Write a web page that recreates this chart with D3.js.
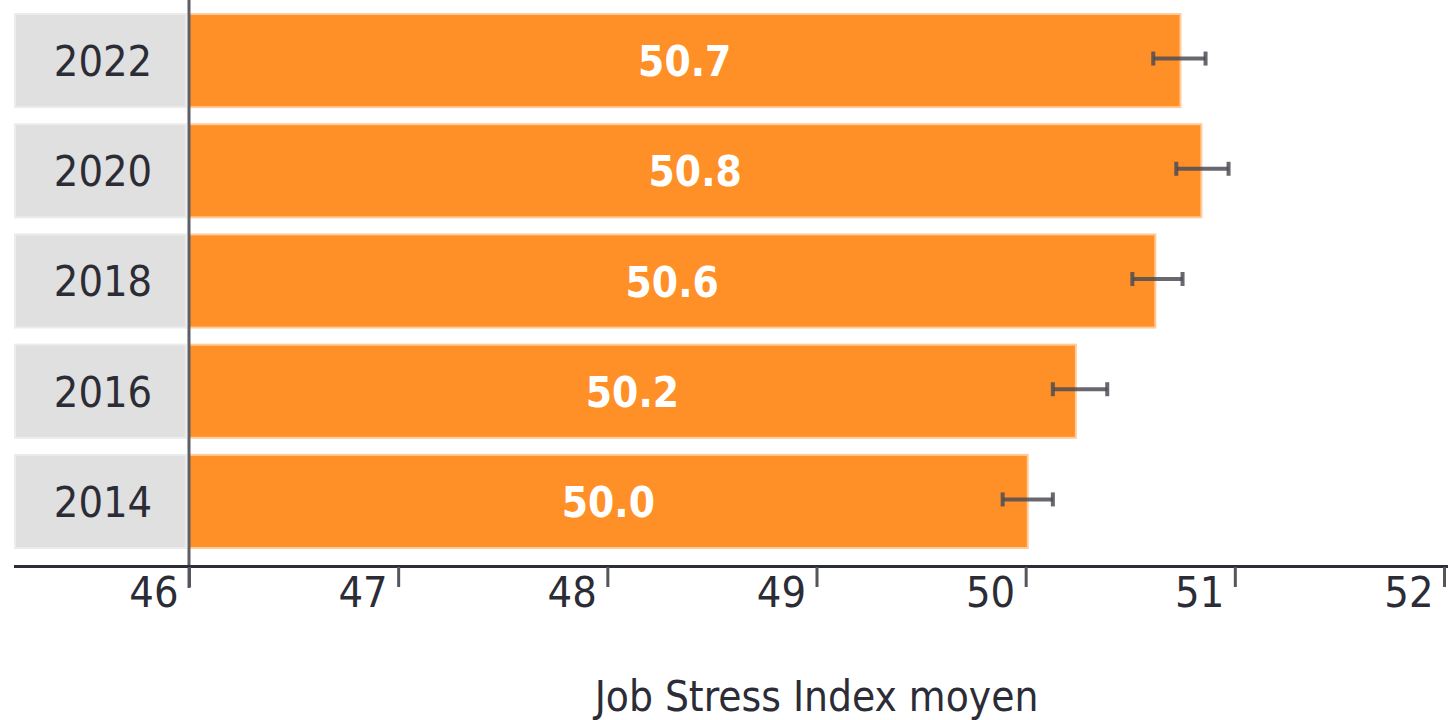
<!DOCTYPE html>
<html>
<head>
<meta charset="utf-8">
<script src="https://cdn.jsdelivr.net/npm/d3@7"></script>
<style>
  body { margin: 0; background: #ffffff; }
  svg { display: block; font-family: "DejaVu Sans Condensed", "DejaVu Sans", sans-serif; }
</style>
</head>
<body>
<svg id="chart" width="1448" height="720"></svg>
<script>
// data
var years = ["2022", "2020", "2018", "2016", "2014"];
var means = [50.74, 50.84, 50.62, 50.24, 50.01];
var ciLow = [50.61, 50.72, 50.51, 50.13, 49.89];
var ciHigh = [50.86, 50.97, 50.75, 50.39, 50.13];
var xTicks = [46, 47, 48, 49, 50, 51, 52];
var axisTitle = "Job Stress Index moyen";

var svg = d3.select("#chart");

var x = d3.scaleLinear().domain([46, 52]).range([189, 1444]);
var y = d3.scaleBand().domain(years).range([14, 548]).paddingInner(0.155).paddingOuter(0);

var rows = years.map(function (d, i) {
  return { year: d, mean: means[i], lo: ciLow[i], hi: ciHigh[i] };
});

// grey category boxes
svg.selectAll(".cat-box")
  .data(rows)
  .enter()
  .append("rect")
  .attr("class", "cat-box")
  .attr("x", 15)
  .attr("y", function (d) { return y(d.year); })
  .attr("width", 171)
  .attr("height", y.bandwidth())
  .attr("fill", "#e0e0e0")
  .attr("stroke", "#ececec")
  .attr("stroke-width", 2);

svg.selectAll(".cat-label")
  .data(rows)
  .enter()
  .append("text")
  .attr("class", "cat-label")
  .attr("x", 103)
  .attr("y", function (d) { return y(d.year) + y.bandwidth() / 2; })
  .attr("dy", "0.36em")
  .attr("text-anchor", "middle")
  .attr("font-size", 43)
  .attr("fill", "#2c2c36")
  .text(function (d) { return d.year; });

// bars
svg.selectAll(".bar")
  .data(rows)
  .enter()
  .append("rect")
  .attr("class", "bar")
  .attr("x", x(46))
  .attr("y", function (d) { return y(d.year); })
  .attr("width", function (d) { return x(d.mean) - x(46); })
  .attr("height", y.bandwidth())
  .attr("fill", "#ff8f27")
  .attr("stroke", "#ffcb9a")
  .attr("stroke-width", 2);

svg.selectAll(".bar-label")
  .data(rows)
  .enter()
  .append("text")
  .attr("class", "bar-label")
  .attr("x", function (d) { return (x(46) + x(d.mean)) / 2; })
  .attr("y", function (d) { return y(d.year) + y.bandwidth() / 2; })
  .attr("dy", "0.37em")
  .attr("text-anchor", "middle")
  .attr("font-size", 42)
  .attr("font-weight", "bold")
  .attr("fill", "#ffffff")
  .text(function (d) { return d3.format(".1f")(d.mean); });

// error bars
var err = svg.selectAll(".err")
  .data(rows)
  .enter()
  .append("g")
  .attr("class", "err")
  .attr("stroke", "#4d4d55")
  .attr("stroke-opacity", 0.85)
  .attr("stroke-width", 4);

err.append("line")
  .attr("x1", function (d) { return x(d.lo); })
  .attr("x2", function (d) { return x(d.hi); })
  .attr("y1", function (d) { return y(d.year) + y.bandwidth() / 2 - 2; })
  .attr("y2", function (d) { return y(d.year) + y.bandwidth() / 2 - 2; });

err.selectAll(".cap")
  .data(function (d) {
    return [d.lo, d.hi].map(function (v) { return { v: v, yc: y(d.year) + y.bandwidth() / 2 - 2 }; });
  })
  .enter()
  .append("line")
  .attr("class", "cap")
  .attr("x1", function (d) { return x(d.v); })
  .attr("x2", function (d) { return x(d.v); })
  .attr("y1", function (d) { return d.yc - 7; })
  .attr("y2", function (d) { return d.yc + 7; });

// vertical baseline at 46
svg.append("line")
  .attr("x1", x(46))
  .attr("x2", x(46))
  .attr("y1", 0)
  .attr("y2", 588)
  .attr("stroke", "#5e5e64")
  .attr("stroke-width", 3);

// horizontal axis
svg.append("line")
  .attr("x1", 14)
  .attr("x2", 1448)
  .attr("y1", 566.5)
  .attr("y2", 566.5)
  .attr("stroke", "#2b2e36")
  .attr("stroke-width", 3);

var xAxis = d3.axisBottom(x)
  .tickValues(xTicks)
  .tickSize(20)
  .tickSizeOuter(0)
  .tickFormat(d3.format("d"));

var gx = svg.append("g")
  .attr("transform", "translate(0,567)")
  .call(xAxis);

gx.select(".domain").remove();
gx.selectAll(".tick line")
  .attr("stroke", "#55555c")
  .attr("stroke-width", 3);
gx.selectAll(".tick text")
  .attr("x", -11)
  .attr("y", 40)
  .attr("dy", 0)
  .attr("text-anchor", "end")
  .attr("font-size", 43)
  .attr("font-family", "DejaVu Sans Condensed, DejaVu Sans, sans-serif")
  .attr("fill", "#2c2c36");

svg.append("text")
  .attr("x", (x(46) + x(52)) / 2)
  .attr("y", 711)
  .attr("text-anchor", "middle")
  .attr("font-size", 42)
  .attr("fill", "#2c2c36")
  .text(axisTitle);
</script>
</body>
</html>
